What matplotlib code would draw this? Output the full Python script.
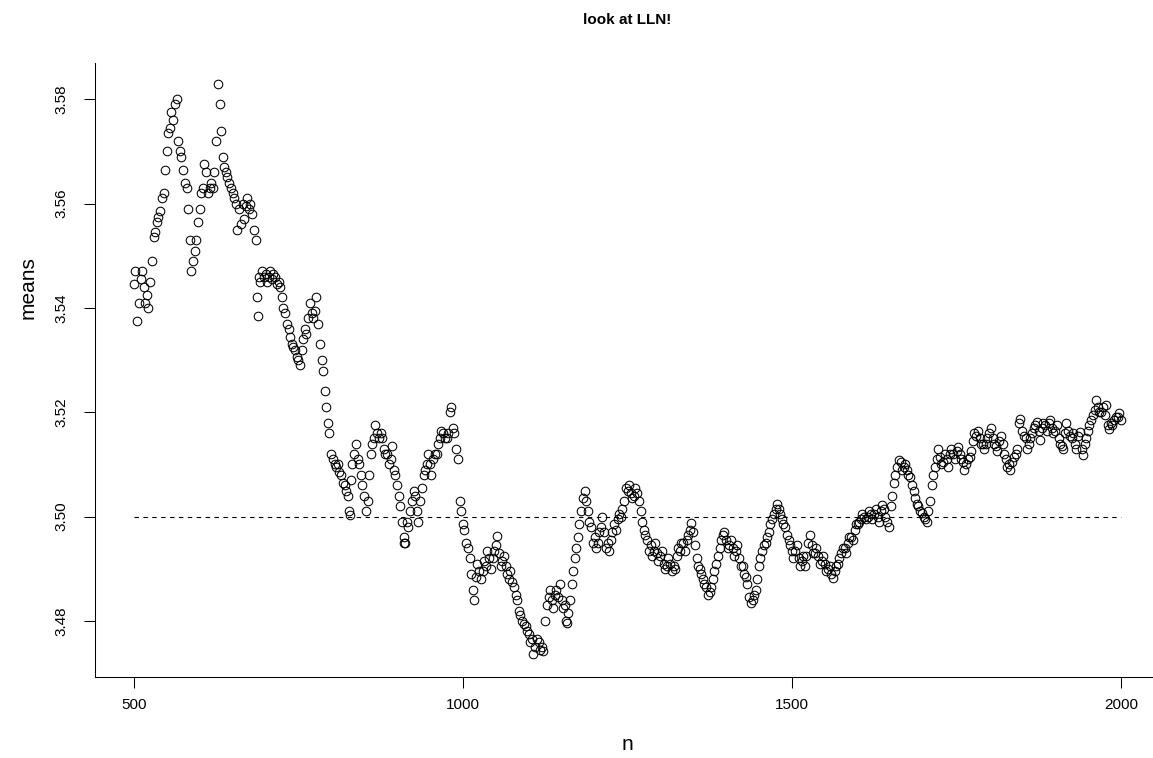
import matplotlib
matplotlib.use("Agg")
import matplotlib.pyplot as plt

plt.rcParams['font.family'] = ['Liberation Sans', 'DejaVu Sans']

# running means read at n = 500, 505, ..., 2000
means_a = [
    3.5445, 3.5375, 3.5455, 3.5440, 3.5425, 3.5450, 3.5535, 3.5565, 3.5585, 3.5620,   # 500-545
    3.5700, 3.5745, 3.5760, 3.5800, 3.5700, 3.5665, 3.5630, 3.5530, 3.5490, 3.5530,   # 550-595
    3.5590, 3.5630, 3.5660, 3.5630, 3.5630, 3.5720, 3.5790, 3.5690, 3.5660, 3.5640,   # 600-645
    3.5620, 3.5600, 3.5590, 3.5600, 3.5595, 3.5590, 3.5580, 3.5530, 3.5460, 3.5470,   # 650-695
    3.5465, 3.5460, 3.5455, 3.5460, 3.5450, 3.5420, 3.5390, 3.5360, 3.5330, 3.5320,   # 700-745
    3.5300, 3.5320, 3.5360, 3.5380, 3.5390, 3.5395, 3.5370, 3.5300, 3.5240, 3.5180,   # 750-795
    3.5120, 3.5100, 3.5100, 3.5080, 3.5060, 3.5040, 3.5070, 3.5120, 3.5110, 3.5080,   # 800-845
    3.5040, 3.5030, 3.5120, 3.5150, 3.5160, 3.5160, 3.5130, 3.5120, 3.5110, 3.5090,   # 850-895
    3.5060, 3.5020, 3.4960, 3.4990, 3.5010, 3.5050, 3.5010, 3.5030, 3.5080, 3.5100,   # 900-945
    3.5100, 3.5110, 3.5120, 3.5150, 3.5160, 3.5150, 3.5200, 3.5170, 3.5130, 3.5030,   # 950-995
    3.4985, 3.4950, 3.4920, 3.4860, 3.4885, 3.4895, 3.4895, 3.4905, 3.4920, 3.4920,   # 1000-1045
    3.4945, 3.4930, 3.4915, 3.4905, 3.4880, 3.4875, 3.4850, 3.4820, 3.4800, 3.4790,   # 1050-1095
    3.4775, 3.4765, 3.4750, 3.4760, 3.4750, 3.4800, 3.4845, 3.4840, 3.4850, 3.4845,   # 1100-1145
    3.4840, 3.4830, 3.4815, 3.4870, 3.4920, 3.4960, 3.5010, 3.5050, 3.5010, 3.4980,   # 1150-1195
    3.4960, 3.4950, 3.4980, 3.4970, 3.4950, 3.4955, 3.4985, 3.4995, 3.5000, 3.5030,   # 1200-1245
    3.5050, 3.5045, 3.5040, 3.5045, 3.5010, 3.4975, 3.4955, 3.4945, 3.4935, 3.4930,   # 1250-1295
    3.4925, 3.4910, 3.4905, 3.4910, 3.4905, 3.4925, 3.4935, 3.4950, 3.4955, 3.4975,   # 1300-1345
    3.4970, 3.4920, 3.4900, 3.4880, 3.4865, 3.4855, 3.4880, 3.4910, 3.4940, 3.4965,   # 1350-1395
    3.4955, 3.4945, 3.4940, 3.4935, 3.4920, 3.4905, 3.4885, 3.4845, 3.4840, 3.4860,   # 1400-1445
    3.4905, 3.4935, 3.4950, 3.4970, 3.4995, 3.5015, 3.5015, 3.4995, 3.4980, 3.4955,   # 1450-1495
    3.4935, 3.4935, 3.4920, 3.4915, 3.4905, 3.4950, 3.4945, 3.4930, 3.4925, 3.4915,   # 1500-1545
    3.4910, 3.4900, 3.4890, 3.4895, 3.4910, 3.4930, 3.4940, 3.4950, 3.4960, 3.4975,   # 1550-1595
    3.4985, 3.4995, 3.5000, 3.5000, 3.5005, 3.5005, 3.5000, 3.5010, 3.5015, 3.4990,   # 1600-1645
    3.5020, 3.5065, 3.5095, 3.5105, 3.5095, 3.5090, 3.5075, 3.5050, 3.5025, 3.5010,   # 1650-1695
    3.5000, 3.4990, 3.5030, 3.5080, 3.5110, 3.5115, 3.5105, 3.5110, 3.5120, 3.5120,   # 1700-1745
    3.5125, 3.5120, 3.5105, 3.5100, 3.5115, 3.5145, 3.5155, 3.5150, 3.5140, 3.5140,   # 1750-1795
    3.5160, 3.5150, 3.5135, 3.5145, 3.5140, 3.5110, 3.5100, 3.5105, 3.5120, 3.5180,   # 1800-1845
    3.5165, 3.5150, 3.5140, 3.5160, 3.5175, 3.5165, 3.5170, 3.5175, 3.5180, 3.5170,   # 1850-1895
    3.5165, 3.5150, 3.5135, 3.5160, 3.5165, 3.5150, 3.5140, 3.5155, 3.5130, 3.5140,   # 1900-1945
    3.5165, 3.5185, 3.5205, 3.5210, 3.5200, 3.5195, 3.5175, 3.5180, 3.5185, 3.5190,   # 1950-1995
    3.5185,                                                                           # 2000
]

# running means read at n = 502, 507, ..., 1997
means_b = [
    3.5470, 3.5410, 3.5470, 3.5410, 3.5400, 3.5490, 3.5545, 3.5575, 3.5610, 3.5665,   # 502-547
    3.5735, 3.5775, 3.5790, 3.5720, 3.5690, 3.5640, 3.5590, 3.5470, 3.5510, 3.5565,   # 552-597
    3.5620, 3.5675, 3.5620, 3.5640, 3.5660, 3.5830, 3.5740, 3.5670, 3.5650, 3.5630,   # 602-647
    3.5610, 3.5550, 3.5560, 3.5570, 3.5610, 3.5600, 3.5550, 3.5420, 3.5450, 3.5460,   # 652-697
    3.5450, 3.5470, 3.5465, 3.5445, 3.5440, 3.5400, 3.5370, 3.5345, 3.5325, 3.5305,   # 702-747
    3.5290, 3.5340, 3.5350, 3.5410, 3.5380, 3.5420, 3.5330, 3.5280, 3.5210, 3.5160,   # 752-797
    3.5110, 3.5095, 3.5085, 3.5065, 3.5050, 3.5010, 3.5100, 3.5140, 3.5100, 3.5060,   # 802-847
    3.5010, 3.5080, 3.5140, 3.5175, 3.5150, 3.5150, 3.5120, 3.5100, 3.5135, 3.5080,   # 852-897
    3.5040, 3.4990, 3.4950, 3.4980, 3.5030, 3.5040, 3.4990, 3.5055, 3.5090, 3.5120,   # 902-947
    3.5080, 3.5120, 3.5140, 3.5165, 3.5150, 3.5160, 3.5210, 3.5160, 3.5110, 3.5010,   # 952-997
    3.4975, 3.4940, 3.4890, 3.4840, 3.4910, 3.4880, 3.4915, 3.4935, 3.4900, 3.4935,   # 1002-1047
    3.4962, 3.4905, 3.4925, 3.4890, 3.4895, 3.4865, 3.4840, 3.4812, 3.4795, 3.4780,   # 1052-1097
    3.4760, 3.4737, 3.4765, 3.4745, 3.4742, 3.4830, 3.4860, 3.4825, 3.4860, 3.4870,   # 1102-1147
    3.4825, 3.4800, 3.4840, 3.4895, 3.4940, 3.4985, 3.5035, 3.5030, 3.4990, 3.4950,   # 1152-1197
    3.4940, 3.4970, 3.5000, 3.4940, 3.4935, 3.4970, 3.4975, 3.5005, 3.5015, 3.5055,   # 1202-1247
    3.5060, 3.5035, 3.5055, 3.5030, 3.4990, 3.4965, 3.4935, 3.4925, 3.4950, 3.4915,   # 1252-1297
    3.4935, 3.4900, 3.4920, 3.4895, 3.4900, 3.4940, 3.4950, 3.4935, 3.4965, 3.4987,   # 1302-1347
    3.4945, 3.4905, 3.4890, 3.4870, 3.4850, 3.4865, 3.4895, 3.4925, 3.4955, 3.4970,   # 1352-1397
    3.4940, 3.4955, 3.4925, 3.4945, 3.4905, 3.4890, 3.4870, 3.4835, 3.4850, 3.4880,   # 1402-1447
    3.4920, 3.4945, 3.4960, 3.4985, 3.5005, 3.5025, 3.5005, 3.4985, 3.4965, 3.4945,   # 1452-1497
    3.4920, 3.4945, 3.4905, 3.4925, 3.4925, 3.4965, 3.4930, 3.4940, 3.4910, 3.4925,   # 1502-1547
    3.4895, 3.4905, 3.4882, 3.4905, 3.4920, 3.4940, 3.4930, 3.4960, 3.4955, 3.4985,   # 1552-1597
    3.4990, 3.5005, 3.4995, 3.5010, 3.4995, 3.5015, 3.4990, 3.5022, 3.5000, 3.4980,   # 1602-1647
    3.5040, 3.5080, 3.5108, 3.5090, 3.5100, 3.5080, 3.5060, 3.5035, 3.5020, 3.5007,   # 1652-1697
    3.4995, 3.5010, 3.5060, 3.5095, 3.5130, 3.5100, 3.5120, 3.5095, 3.5130, 3.5110,   # 1702-1747
    3.5134, 3.5110, 3.5090, 3.5110, 3.5125, 3.5160, 3.5165, 3.5140, 3.5130, 3.5150,   # 1752-1797
    3.5170, 3.5140, 3.5125, 3.5155, 3.5120, 3.5095, 3.5090, 3.5115, 3.5130, 3.5188,   # 1802-1847
    3.5155, 3.5130, 3.5150, 3.5170, 3.5182, 3.5147, 3.5180, 3.5165, 3.5185, 3.5160,   # 1852-1897
    3.5175, 3.5140, 3.5130, 3.5179, 3.5155, 3.5160, 3.5130, 3.5163, 3.5118, 3.5150,   # 1902-1947
    3.5175, 3.5195, 3.5224, 3.5200, 3.5210, 3.5214, 3.5168, 3.5175, 3.5190, 3.5198,   # 1952-1997
]

# isolated circles
n_extra = [688, 829, 910, 1158]
means_extra = [3.5385, 3.5003, 3.4950, 3.4796]

n_a = list(range(500, 500 + 5 * len(means_a), 5))
n_b = list(range(502, 502 + 5 * len(means_b), 5))
n_all = n_a + n_b + n_extra
means_all = means_a + means_b + means_extra

ref_level = 3.5
ref_from, ref_to = 500, 2000
x_ticks = [500, 1000, 1500, 2000]
y_ticks = [3.48, 3.50, 3.52, 3.54, 3.56, 3.58]
y_tick_labels = ["3.48", "3.50", "3.52", "3.54", "3.56", "3.58"]

W, H = 1153, 758
fig = plt.figure(figsize=(W / 100, H / 100), dpi=100)
left_px, right_px = 94.5, 1160.5
top_px, bottom_px = 62.7, 677.3
ax = fig.add_axes([left_px / W, 1 - bottom_px / H,
                   (right_px - left_px) / W, (bottom_px - top_px) / H])

ax.plot(n_all, means_all, linestyle='none', marker='o', markersize=6.2,
        markerfacecolor='none', markeredgecolor='black', markeredgewidth=0.75)
ax.plot([ref_from, ref_to], [ref_level, ref_level], color='black',
        linewidth=0.8, linestyle=(0, (4, 4)))

ax.set_xlim(440, 2060)
ax.set_ylim(3.4692, 3.5870)

for s in ['top', 'right']:
    ax.spines[s].set_visible(False)
for s in ['left', 'bottom']:
    ax.spines[s].set_linewidth(0.75)

ax.set_xticks(x_ticks)
ax.set_xticklabels([str(t) for t in x_ticks], fontsize=11)
ax.set_yticks(y_ticks)
ax.set_yticklabels(y_tick_labels, fontsize=11, rotation=90, va='center')
ax.tick_params(axis='both', direction='out', length=8, width=0.75, color='black')
ax.tick_params(axis='x', pad=7)
ax.tick_params(axis='y', pad=11)

fig.text(627.5 / W, 1 - 20 / H, "look at LLN!", ha='center', va='center',
         fontsize=11, fontweight='bold')
fig.text(627.5 / W, 1 - 745 / H, "n", ha='center', va='center', fontsize=15)
fig.text(28 / W, 1 - 288 / H, "means", ha='center', va='center', fontsize=15,
         rotation=90)

fig.savefig("out.png", dpi=100)
